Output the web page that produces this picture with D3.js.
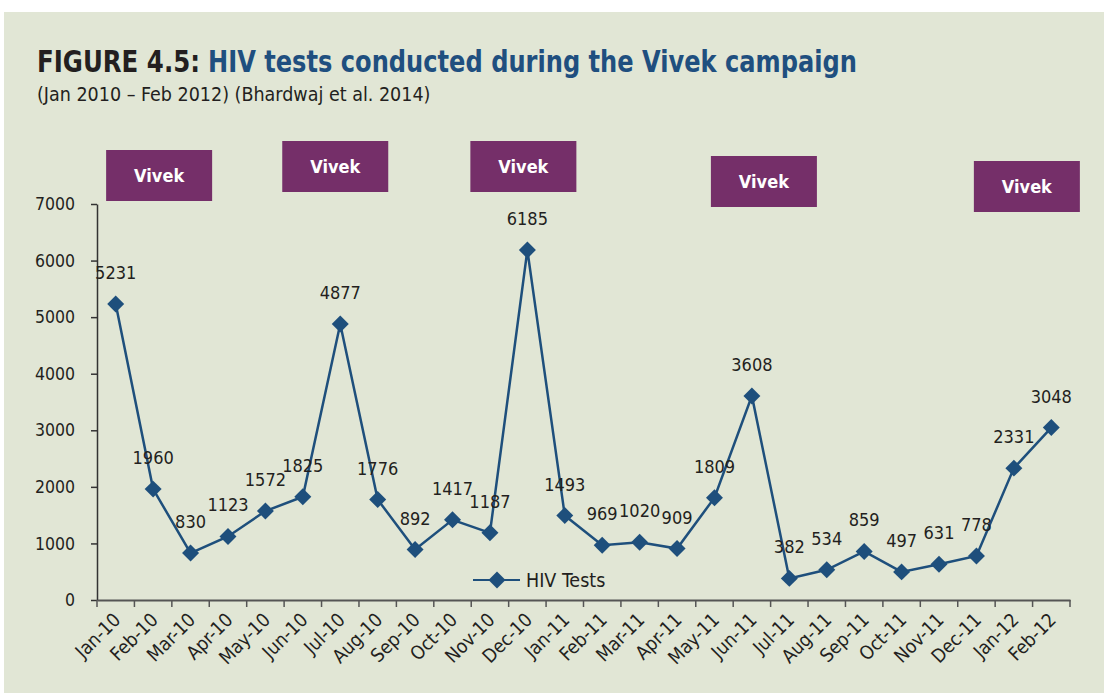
<!DOCTYPE html>
<html>
<head>
<meta charset="utf-8">
<script src="https://cdn.jsdelivr.net/npm/d3@7"></script>
<style>
  body { margin: 0; background: #ffffff; }
  svg text { font-family: "DejaVu Sans Condensed", "Liberation Sans", sans-serif; }
</style>
</head>
<body>
<div id="chart"></div>
<script>
// data
const months = ["Jan-10","Feb-10","Mar-10","Apr-10","May-10","Jun-10","Jul-10","Aug-10","Sep-10","Oct-10","Nov-10","Dec-10",
                "Jan-11","Feb-11","Mar-11","Apr-11","May-11","Jun-11","Jul-11","Aug-11","Sep-11","Oct-11","Nov-11","Dec-11",
                "Jan-12","Feb-12"];
const hivTests = [5231,1960,830,1123,1572,1825,4877,1776,892,1417,1187,6185,
                  1493,969,1020,909,1809,3608,382,534,859,497,631,778,
                  2331,3048];
const yTicks = [0,1000,2000,3000,4000,5000,6000,7000];
const campaignMonths = ["Feb-10","Jul-10","Dec-10","Jun-11","Jan-12"];

// where the "Vivek" boxes sit relative to their month (layout only)
const boxShift = [6, -5, -4, 12, 13];
const boxTop = [150, 141, 141, 156, 161];

const width = 1104, height = 693;
const plotLeft = 97, plotRight = 1070, plotTop = 204, plotBottom = 600;

const blue = "#1e4f7c", purple = "#752f69", ink = "#231f20";

const svg = d3.select("#chart")
    .append("svg")
    .attr("width", width)
    .attr("height", height);

svg.append("rect")
    .attr("x", 4).attr("y", 12)
    .attr("width", width - 4).attr("height", height - 12)
    .attr("fill", "#e1e6d5");

// title, two pieces so each can be squeezed to the reference width
svg.append("text")
    .attr("x", 37).attr("y", 72)
    .attr("textLength", 163)
    .attr("lengthAdjust", "spacingAndGlyphs")
    .attr("fill", ink)
    .style("font-size", "30px")
    .style("font-weight", "bold")
    .text("FIGURE 4.5:");
svg.append("text")
    .attr("x", 208).attr("y", 72)
    .attr("textLength", 649)
    .attr("lengthAdjust", "spacingAndGlyphs")
    .attr("fill", "#1f4f7f")
    .style("font-size", "30px")
    .style("font-weight", "bold")
    .text("HIV tests conducted during the Vivek campaign");

svg.append("text")
    .attr("x", 37).attr("y", 101)
    .attr("fill", ink)
    .style("font-size", "19.5px")
    .text("(Jan 2010 \u2013 Feb 2012) (Bhardwaj et al. 2014)");

const x = d3.scaleBand()
    .domain(months)
    .range([plotLeft, plotRight])
    .padding(0);

const y = d3.scaleLinear()
    .domain([0, 7000])
    .range([plotBottom, plotTop]);

// y axis
const yAxis = svg.append("g")
    .attr("transform", `translate(${plotLeft},0)`)
    .call(d3.axisLeft(y).tickValues(yTicks).tickFormat(d3.format("d"))
        .tickSize(6).tickPadding(16).tickSizeOuter(0));
yAxis.select(".domain").attr("stroke", "#333").attr("stroke-width", 1.5);
yAxis.selectAll(".tick line").attr("stroke", "#333").attr("stroke-width", 1.5);
yAxis.selectAll("text").attr("fill", ink).style("font-size", "17.5px");

// x axis: labels under the month, ticks on the band edges
const xAxis = svg.append("g")
    .attr("transform", `translate(0,${plotBottom})`)
    .call(d3.axisBottom(x).tickSize(0).tickSizeOuter(0));
xAxis.select(".domain").attr("stroke", "#555").attr("stroke-width", 2);
xAxis.selectAll("text")
    .attr("x", 0).attr("y", 0).attr("dy", 0)
    .attr("fill", ink)
    .style("font-size", "19px")
    .style("text-anchor", "end")
    .attr("transform", "translate(6,21) rotate(-45)");

const edges = months.map(m => x(m)).concat([plotRight]);
xAxis.selectAll(".edge")
    .data(edges)
    .enter()
    .append("line")
    .attr("x1", d => d).attr("x2", d => d)
    .attr("y1", 0).attr("y2", 7)
    .attr("stroke", "#555")
    .attr("stroke-width", 1.5);

const dataset = months.map((m, i) => ({ month: m, value: hivTests[i] }));
const cx = d => x(d.month) + x.bandwidth() / 2;

const line = d3.line()
    .x(cx)
    .y(d => y(d.value));

svg.append("path")
    .datum(dataset)
    .attr("fill", "none")
    .attr("stroke", blue)
    .attr("stroke-width", 2.5)
    .attr("d", line);

svg.selectAll(".pt")
    .data(dataset)
    .enter()
    .append("rect")
    .attr("x", -6).attr("y", -6)
    .attr("width", 12).attr("height", 12)
    .attr("fill", blue)
    .attr("transform", d => `translate(${cx(d)},${y(d.value)}) rotate(45)`);

svg.selectAll(".lbl")
    .data(dataset)
    .enter()
    .append("text")
    .attr("x", cx)
    .attr("y", d => y(d.value) - 25)
    .attr("text-anchor", "middle")
    .attr("fill", ink)
    .style("font-size", "18px")
    .text(d => d.value);

// campaign boxes
const boxes = svg.selectAll(".vivek")
    .data(campaignMonths)
    .enter()
    .append("g")
    .attr("transform", (d, i) => `translate(${x(d) + x.bandwidth() / 2 + boxShift[i] - 53},${boxTop[i]})`);
boxes.append("rect")
    .attr("width", 106).attr("height", 51)
    .attr("fill", purple);
boxes.append("text")
    .attr("x", 53).attr("y", 32)
    .attr("text-anchor", "middle")
    .attr("fill", "#ffffff")
    .style("font-size", "18px")
    .style("font-weight", "bold")
    .text("Vivek");

// legend
const legend = svg.append("g").attr("transform", "translate(473,580)");
legend.append("line")
    .attr("x1", 0).attr("x2", 47)
    .attr("stroke", blue).attr("stroke-width", 2);
legend.append("rect")
    .attr("x", -6).attr("y", -6)
    .attr("width", 12).attr("height", 12)
    .attr("fill", blue)
    .attr("transform", "translate(24,0) rotate(45)");
legend.append("text")
    .attr("x", 53).attr("y", 7)
    .attr("fill", ink)
    .style("font-size", "19.5px")
    .text("HIV Tests");
</script>
</body>
</html>
